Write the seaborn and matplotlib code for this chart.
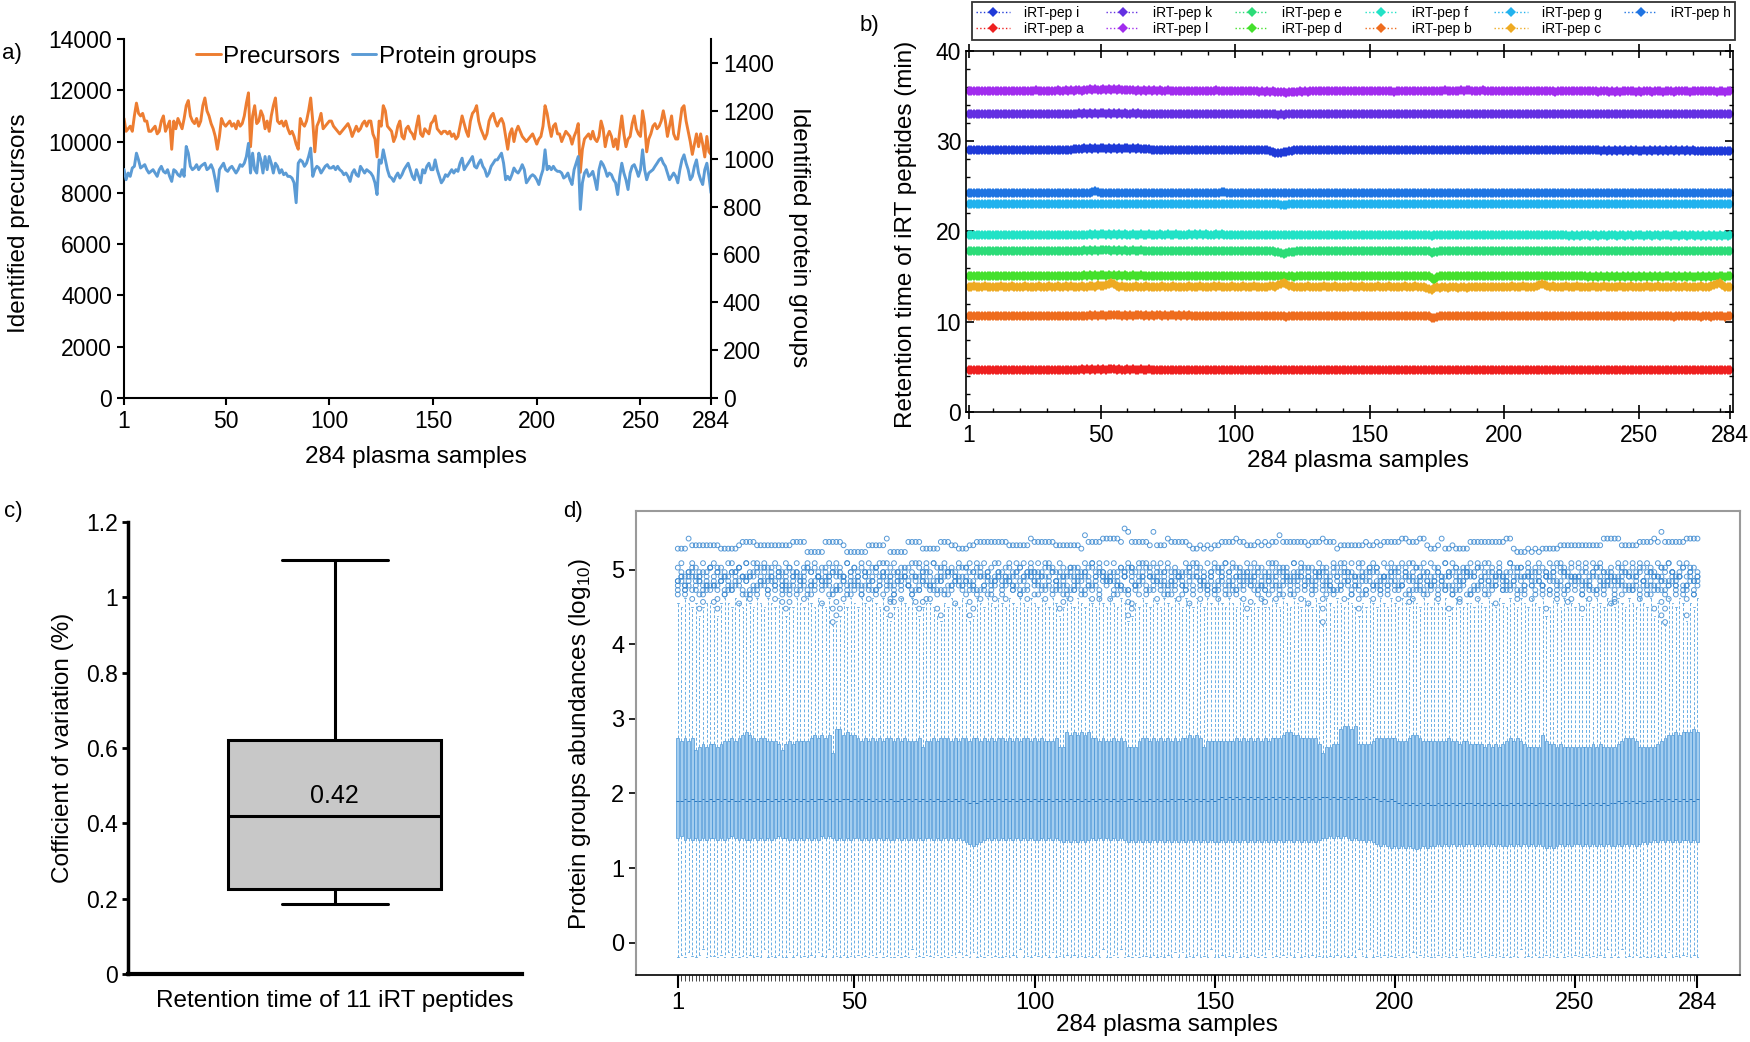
import numpy as np
import pandas as pd
import matplotlib
matplotlib.use("Agg")
import matplotlib.pyplot as plt
import seaborn as sns
from matplotlib.ticker import MultipleLocator, FixedLocator, FuncFormatter

sns.set_style("ticks")
plt.rcParams["font.family"] = ["Liberation Sans", "DejaVu Sans"]
plt.rcParams.update({"text.color": "black", "axes.labelcolor": "black",
                     "xtick.color": "black", "ytick.color": "black",
                     "axes.edgecolor": "black", "mathtext.fontset": "custom",
                     "mathtext.rm": "Liberation Sans"})

N = 284
samples = np.arange(1, N + 1)

# ---------------- a) identifications per sample ----------------
# precursors, in hundreds
PRECURSORS_100 = """
109 104 105 106 104 110 115 111 110 111
108 108 104 104 105 106 103 104 108 110
104 106 108 97 108 105 109 107 105 109
114 116 110 108 107 109 106 108 114 117
112 110 107 105 102 97 102 109 107 106
107 108 106 107 105 108 106 107 110 115
119 98 110 114 107 108 112 110 105 108
104 110 114 117 108 107 108 106 108 105
103 104 102 99 97 109 107 106 108 112
117 108 96 106 108 111 105 106 107 108
108 106 105 104 103 104 105 106 107 105
102 104 106 104 105 107 108 106 108 108
103 101 94 108 106 114 112 106 105 104
100 102 106 108 102 101 105 106 104 103
101 106 110 103 102 105 104 103 107 108
110 105 104 103 104 104 103 104 102 103
101 102 106 110 107 104 102 108 111 112
114 108 105 103 101 103 108 110 111 108
106 108 109 107 102 97 103 105 100 104
106 104 102 101 100 101 102 103 101 99
101 102 106 114 111 106 102 106 107 103
103 100 102 104 103 102 99 102 104 107
88 97 101 102 103 101 104 101 100 102
108 105 98 102 104 102 98 101 97 104
110 103 98 101 102 107 110 105 103 102
112 107 96 101 103 106 107 105 106 108
112 108 102 106 110 103 101 101 107 113
114 108 104 100 95 99 103 98 103 99
94 102 96 95
"""
PROTEIN_GROUPS = """
955 912 940 926 961 968 1023 995 961 968
975 954 940 947 954 940 926 954 968 947
940 954 926 905 954 947 933 926 954 926
1051 1023 968 954 961 975 954 968 975 981
954 961 975 954 912 864 954 968 981 954
947 961 968 954 940 954 975 968 981 1009
1064 940 1023 954 940 1023 995 940 1009 954
1009 981 940 981 968 940 954 933 940 926
926 919 899 816 981 995 988 968 981 1009
1044 926 954 968 961 940 954 968 975 961
961 968 954 968 954 947 933 940 926 905
940 954 933 926 968 954 940 954 947 940
926 899 850 995 981 1037 995 954 926 919
905 926 940 919 933 954 968 981 954 926
912 954 926 899 954 940 968 981 954 954
995 954 926 899 912 933 926 940 954 940
954 947 981 1002 954 968 981 995 1009 968
961 981 995 968 954 926 940 968 981 995
995 1009 1023 981 912 926 912 933 961 947
940 954 975 954 899 912 926 933 926 912
892 926 954 1037 954 968 954 968 954 947
947 940 919 926 940 912 892 954 981 1009
788 899 940 954 926 933 947 912 871 954
988 975 954 926 940 933 912 899 850 926
981 940 912 871 940 968 975 954 926 954
1037 954 912 940 947 954 968 981 995 1002
981 968 940 912 926 940 926 899 954 995
1016 981 954 912 926 968 995 940 912 892
954 981 926 857
"""

# ---------------- b) retention time of the iRT peptides ----------------
# level in minutes; each digit is the per-sample offset (digit - 5) * 0.1 min
rt_level = {"a": 4.7, "b": 10.6, "c": 13.9, "d": 15.1, "e": 17.8, "f": 19.6,
            "g": 23.1, "h": 24.3, "i": 29.0, "k": 33.0, "l": 35.6}
rt_offsets = {
    "a": """5555555555 5555555555 5555555555 5555555555 5565656565
            6566656556 5655655655 5555555555 5555555555 5555555555
            5555555555 5555555555 5555555555 5555555555 5555555555
            5555555555 5555555555 5545555555 5555555555 5555555555
            5555555555 5555555555 5555555555 5555555555 5555555555
            5555555555 5545554555 4554545545 5455""",
    "b": """5555555555 5555555555 5555555555 5555555555 5555565656
            6566666565 6566656565 6656566565 6565555555 5555555555
            5555555555 5555555545 5555555555 5555555555 5555555555
            5555555555 5555555555 5533455555 5555555555 5555555555
            5555555555 5555555555 5555555555 5555555555 5555555555
            5555555555 5545555555 5545554555 5455""",
    "c": """5465546545 4565456455 5645546545 6556456565 5465566576
            6789865655 5465546545 4565456455 5465546545 5646554565
            4565456455 5466578986 6545546545 4565456455 5465546545
            4565456455 5465546544 3213434434 4434434544 4544545455
            5465546545 5678765655 4565456455 5465546545 4565456455
            5465546545 4565456455 5465556789 7545""",
    "d": """5555555555 5555555555 5555555555 5555555555 5556565656
            6565656565 5655655555 5555555555 5555555555 5555555555
            5555555555 5555555545 5455555555 5555555555 5555555555
            5555555555 5555555555 5520455555 5555555555 5555555555
            5555555555 5555555555 5555555555 4545454545 4545454545
            4545454545 5454545454 4545454545 5455""",
    "e": """5555555555 5555555555 5555555555 5555555555 5556565656
            6665656565 5655655555 5555555555 5555555555 5555555555
            5555555555 5555443234 4455555555 5555555555 5555555555
            5555555555 5555555555 5534455555 5555555555 5555555555
            5555555555 5555555555 5555555555 5555555555 5555555555
            5555555555 5555555555 5555555555 5555""",
    "f": """5555555555 5555555555 5555555555 5555555555 5555565656
            6565656565 5655655655 5655655655 5565656565 5565655555
            5555555555 5555555555 5555555555 5555555555 5555555555
            5555555555 5555555555 5545555555 5555555555 5555555555
            5555555555 5555555555 5554545455 5455455455 5455455455
            5455455455 5455455455 4545454545 4545""",
    "g": """5555555555 5555555555 5555555555 5555555555 5555555555
            5555555555 5555555555 5555555555 5555555555 5555555555
            5555555555 5555443334 4455555555 5555555555 5555555555
            5555555555 5555555555 5555555555 5555555555 5555555555
            5555555555 5555555555 5555555555 5555555555 5555555555
            5555555555 5555555555 5555555555 5555""",
    "h": """5555555555 5555555555 5555555555 5555555555 5555556765
            5555555555 5555555555 5555555555 5555555555 5555665555
            5555555555 5555555555 5555555555 5555555555 5555555555
            5555555555 5555555555 5555555555 5555555555 5555555555
            5555555555 5555555555 5555555555 5555555555 5555555555
            5555555555 5555555555 5555555555 5555""",
    "i": """5555555555 5555555555 5555555555 5555555556 6667676767
            7676767677 6767666655 5555555555 5555555555 5555555555
            5555555555 5543222334 4555555555 5555555555 5555555555
            5555555555 5555555555 5555555555 5555555555 5555555555
            5555555555 5555555555 5555555555 5555545454 5454545454
            4545454545 4545454545 4444444444 4444""",
    "k": """5555555555 5555555555 5555555555 5555555555 5656565656
            6565656565 5656555555 5555555555 5555555555 5555555555
            5555555555 5555545455 5555555555 5555555555 5555555555
            5555555555 5555555555 5555555555 5555555555 5555555555
            5555555555 5555555555 5555555555 5555555555 5555555555
            5555555555 5555555555 5555555555 5555""",
    "l": """5555555555 5555555555 5555565555 5556556565 6656676766
            7676767666 6656565656 5655655555 5555555555 5565555555
            5555555545 4545444434 4445454555 5555555555 5555555555
            5555555545 5555555555 5555555655 5556566555 5655555555
            5555555555 5555555545 5555555555 5555455545 4545555545
            4555455545 5545555545 5555555545 5455""",
}
legend_order = ["i", "a", "k", "l", "e", "d", "f", "b", "g", "c", "h"]
pep_colors = {"i": "#1f3ad8", "a": "#ee2020", "k": "#6330e2", "l": "#a12cee",
              "e": "#2cdc78", "d": "#44e02c", "f": "#22e2c6", "b": "#ee6c1e",
              "g": "#22b2ee", "c": "#eeaa22", "h": "#1f74e2"}

# ---------------- c) CV of retention time, 11 iRT peptides (%) ----------------
cv_values = [0.185, 0.21, 0.22, 0.23, 0.35, 0.42, 0.50, 0.60, 0.64, 0.85, 1.10]

# ---------------- d) protein abundance boxes per sample (log10) ----------------
# digit codes per sample: q1 = 1.25+0.025d, median = 1.80+0.025d, q3 = 2.55+0.04d,
# whisker low = -0.22+0.02d, whisker high = 4.20+0.06d
Q1 = """6756565656 6565676565 5656565676 6565656565 7676565656 6565656565
5656565656 6565656565 4323456565 6565656565 5656565454 5454565656 5656545454
5454545454 5454545454 4545454545 4545454545 5454545456 6767676565 5454323212
1212101212 2323232323 3232323232 2323232323 2121232323 3232323232 2323232343
4545454545 5454"""
MED = """4454544545 4545454454 5454454545 4545454545 5454545545 4545454545
4454545454 5454454545 4343454545 4545454545 4545454545 4545454545 4545455454
4545454545 5454545454 5656565656 5656565656 5656565656 6565656565 5656545454
3232323232 2323232323 3232323232 2323232323 3232323232 2323232323 3434343434
4545454545 4545"""
Q3 = """5454512323 3234454567 6545544431 3434444565 6560886766 5454545455
4545444524 4545554545 5455454545 5454545545 4544452276 7676755454 4545422245
5454545454 5565652444 4444454545 4545455567 7665555530 2233899893 3334555555
4445665444 4444544344 3333232323 4545432222 6433232222 2222323222 2345554222
2234566767 7787"""
LO = """1315213712 2131513121 3121712131 1513121315 2171213121 3121315121
1312171213 2131213151 3151213121 1213171213 2131512131 3121213171 1317121312
2131213151 5121312171 1312151213 2131712131 3151213121 1213121317 2171213121
3121513121 1312131712 2151213121 3121712131 1312151213 2131213171 3171213121
1213151213 2131"""
HI = """6576563566 5367657657 6576576575 3557657657 6571236576 5765765732
5576575356 6532657657 6237657657 6576576576 5765763576 5765765765 7657623657
6576576576 5765765765 7657657635 6575576576 5765765761 7657657653 6576576576
5765765765 7657357556 6576576576 5765765765 7357657565 6376576576 5765765765
7362176576 2657"""
# outliers, "." = none
# top row: 5.15 + 0.045 d
OUT_TOP = """3336444444 4433333455 5544444444 4455552222 2555554222 2224444462
2222555533 3335554433 3445555555 5544444465 5555544444 4437555566 6665985555
5484446555 5543343434 4555565544 4545455755 5555545556 5553444444 4544545555
5665556643 3463343333 5555555555 6632223232 3333344444 4444444666 6644444555
5658555555 6666"""
# main cluster: 4.55 + 0.06 d
OUT_CLUSTER = [
    """8967986978 9786997869 6998786987 9879689796 8697986978
    7969879698 9786896979 6987978698 8979697869 7896986797
    9698779868 8769897969 6978698789 9867979686 7989686979
    8697987698 9786969878 6979868797 8698797969 9787869698
    6989786979 8769698787 9698978696 7986869789 8697978696
    9786989768 6979687989 8698797698 9786""",
    """5746857468 6857475869 7485968574 4867578486 5768475968
    6847586974 7568469857 4958674786 8576847596 5684759687
    7469857648 6857496875 5748687496 8695748576 4786957468
    7594868574 6847597486 5968475768 7486957648 6579846857
    8476958674 5869748576 7485697486 6957848675 4768597486
    8594768574 5687496857 7468597468 6857""",
    """5647365748 4756374865 6374857463 7463548756 5847366475
    6475384756 4756473658 7365847564 5748366457 4657483765
    6384756473 5473684756 7564738465 4658374756 6374856473
    5847364756 7463584765 4756384675 6573485746 5384756473
    7465384756 4756473658 6384756473 5748366457 4657483765
    6475384756 5847364756 7365847564 4756""",
    """4635746354 5463647536 3746536475 6357463547 4563746354
    5374635746 3647536475 4536374654 6453746357 3564736475
    5746354637 4637546375 6354736457 3746563547 5463745364
    4736536475 6354746357 3647563574 5436475364 7364536475
    4573646354 6354736457 3746354675 5463647536 4736357464
    6354736457 3564746354 5746356473 4635""",
    """3524635243 4352536425 2635425364 5246352436 3452635243
    4263524635 2536425364 3425263543 5342635246 2453625364
    4635243526 3526435264 5243625346 2635452436 4352634253
    3625425364 5243635246 2536452463 4325364253 6253425364
    3462535243 5243625346 2635243564 4352536425 3625246353
    5243625346 2453635243 4635245362 3524""",
    """2.3.1.2.3. .1.2.3.0.2 1.2..3.1.2 3..2.1.2.. 0.2.3.1.2. .2.1.3.2.1
    2.1..2.3.1 1..3.2.0.. 2.3.1.2.1. .1.3.2.1.2 2.1..3.2.1 3..2.1.1.. 1.2.3.0.2.
    .3.1.2.2.1 2.0..1.3.2 1..2.3.1.. 3.1.2.1.2. .2.1.0.3.1 2.3..1.2.1 2..1.3.2..
    1.2.1.3.2. .1.3.2.1.2 2.1..2.0.3 3..1.2.1.. 2.3.1.2.1. .2.1.3.2.0 1.2..3.1.2
    2..3.1.2.. 1.2.""",
]
# low tails: 4.30 + 0.09 d
OUT_TAIL = [
    """......23.. 32........ .........3 23........ ...012.... ........21
    3.....323. ..21...... .12....... .......... ......23.. .......... .....12...
    .......... .......... ........23 ...3...... .........0 .........2 ..........
    ...3...... ....2..3.. .......... .......... .2.....3.. .2........ 3.........
    .2.10..... 1...""",
    """.......... .......... .......... .......... ...23..... .........3
    .......... .......... .3........ .......... .......... .......... .....3....
    .......... .......... .......... .......... .........2 .......... ..........
    .......... .......... .......... .......... .......... .......... ..........
    ...32..... ....""",
]


def nums(txt):
    vals = np.array(txt.split(), dtype=float)
    assert len(vals) == N, len(vals)
    return vals


def codes(txt):
    vals = [np.nan if c == "." else float(c) for c in txt if not c.isspace()]
    assert len(vals) == N, len(vals)
    return np.array(vals)


precursors = nums(PRECURSORS_100) * 100
protein_groups = nums(PROTEIN_GROUPS)
rt = {k: rt_level[k] + (codes(rt_offsets[k]) - 5) * 0.1 for k in rt_level}

q1 = 1.25 + codes(Q1) * 0.025
med = 1.80 + codes(MED) * 0.025
q3 = 2.55 + codes(Q3) * 0.04
lo = -0.22 + codes(LO) * 0.02
hi = 4.20 + codes(HI) * 0.06
box_df = pd.DataFrame({"sample": np.tile(samples, 5),
                       "value": np.concatenate([lo, q1, med, q3, hi])})

out_x, out_y = [], []
for rows, base, step in [([OUT_TOP], 5.15, 0.045), (OUT_CLUSTER, 4.55, 0.06),
                         (OUT_TAIL, 4.30, 0.09)]:
    for row in rows:
        v = base + codes(row) * step
        ok = ~np.isnan(v)
        out_x.append(samples[ok])
        out_y.append(v[ok])
out_x = np.concatenate(out_x)
out_y = np.concatenate(out_y)

# ---------------- figure ----------------
W, H = 1750, 1042
fig = plt.figure(figsize=(W / 100, H / 100), dpi=100)


def box(l, t, r, b):
    return [l / W, 1 - b / H, (r - l) / W, (b - t) / H]


TICK = 16.5
LAB = 17.5
ORANGE, BLUE = "#ED7D31", "#5B9BD5"
ticks_284 = [1, 50, 100, 150, 200, 250, 284]

# a)
ax_a = fig.add_axes(box(124, 39, 711, 398))
ax_a2 = ax_a.twinx()
sns.lineplot(x=samples, y=precursors, ax=ax_a, color=ORANGE, lw=2.1, legend=False)
sns.lineplot(x=samples, y=protein_groups, ax=ax_a2, color=BLUE, lw=2.1, legend=False)
ax_a.set_xlim(1, 284)
ax_a.set_ylim(0, 14000)
ax_a2.set_ylim(0, 1500)
ax_a.set_xticks(ticks_284)
ax_a.set_yticks(range(0, 14001, 2000))
ax_a2.set_yticks(range(0, 1401, 200))
for s in ["top", "right"]:
    ax_a.spines[s].set_visible(False)
for s in ["top", "left", "bottom"]:
    ax_a2.spines[s].set_visible(False)
for a in (ax_a, ax_a2):
    for s in a.spines.values():
        s.set_linewidth(1.5)
    a.tick_params(direction="out", length=5, width=1.5, labelsize=TICK)
ax_a.set_xlabel("284 plasma samples", fontsize=LAB)
ax_a.set_ylabel("Identified precursors", fontsize=LAB)
ax_a2.set_ylabel("Identified protein groups", fontsize=LAB, rotation=270, va="bottom")
ax_a.xaxis.set_label_coords(0.497, -0.134)
ax_a.yaxis.set_label_coords(-0.160, 0.487)
ax_a2.yaxis.set_label_coords(1.131, 0.449)
ax_a2.legend([ax_a.lines[0], ax_a2.lines[0]], ["Precursors", "Protein groups"],
             loc="center left", bbox_to_anchor=(0.123, 0.95), ncol=2, frameon=False,
             fontsize=LAB, handlelength=1.0, handletextpad=0.1, columnspacing=0.5,
             borderpad=0, borderaxespad=0)

# b)
ax_b = fig.add_axes(box(966, 51, 1733, 412))
for k in legend_order:
    sns.lineplot(x=samples, y=rt[k], ax=ax_b, color=pep_colors[k], marker="D",
                 markersize=5.2, markeredgewidth=0, linestyle=":", lw=1,
                 label=f"iRT-pep {k}", legend=False)
ax_b.set_xlim(0, 285)
ax_b.set_ylim(0, 40)
ax_b.set_xticks(ticks_284)
ax_b.xaxis.set_minor_locator(FixedLocator(range(10, 285, 10)))
ax_b.yaxis.set_major_locator(MultipleLocator(10))
ax_b.yaxis.set_minor_locator(MultipleLocator(2))
ax_b.tick_params(which="both", top=True, right=True, direction="in", labelsize=TICK)
ax_b.tick_params(which="major", length=6, width=1.2)
ax_b.tick_params(which="minor", length=3, width=1)
ax_b.tick_params(axis="x", which="major", direction="inout", length=10)
for s in ax_b.spines.values():
    s.set_linewidth(1.2)
ax_b.set_xlabel("284 plasma samples", fontsize=LAB)
ax_b.set_ylabel("Retention time of iRT peptides (min)", fontsize=LAB)
ax_b.xaxis.set_label_coords(0.511, -0.105)
ax_b.yaxis.set_label_coords(-0.064, 0.493)
leg = ax_b.legend(ax_b.lines, [l.get_label() for l in ax_b.lines], ncol=6,
                  loc="lower left", bbox_to_anchor=(0.008, 1.03, 0.995, 0.1),
                  mode="expand", borderaxespad=0, fontsize=10, fancybox=False,
                  edgecolor="black", handlelength=2.4, handletextpad=1.0,
                  labelspacing=0.15, borderpad=0.3, columnspacing=1.0)
leg.get_frame().set_linewidth(1.3)

# c)
ax_c = fig.add_axes(box(128, 522, 522, 974))
sns.boxplot(y=cv_values, ax=ax_c, width=0.54, color="#c8c8c8", saturation=1,
            linecolor="black", linewidth=2.2, whis=1.5, showfliers=False)
ax_c.set_xlim(-0.525, 0.475)
ax_c.set_ylim(0, 1.2)
ax_c.set_yticks(np.arange(0, 1.21, 0.2))
ax_c.yaxis.set_major_formatter(FuncFormatter(lambda v, p: f"{v:g}"))
ax_c.set_xticks([])
for s in ["top", "right"]:
    ax_c.spines[s].set_visible(False)
ax_c.spines["left"].set_linewidth(2.5)
ax_c.spines["bottom"].set_linewidth(3)
ax_c.tick_params(axis="y", direction="out", length=4, width=2, labelsize=TICK)
cv_med = np.median(cv_values)
ax_c.text(0, cv_med + 0.02, f"{cv_med:.2f}", ha="center", va="bottom", fontsize=18)
ax_c.set_xlabel("Retention time of 11 iRT peptides", fontsize=LAB)
ax_c.set_ylabel("Cofficient of variation (%)", fontsize=LAB)
ax_c.xaxis.set_label_coords(0.525, -0.035)
ax_c.yaxis.set_label_coords(-0.137, 0.5)

# d)
ax_d = fig.add_axes(box(636, 511, 1740, 975))
sns.boxplot(data=box_df, x="sample", y="value", ax=ax_d, native_scale=True,
            whis=(0, 100), showfliers=False, width=0.8, color="#a3cdef",
            saturation=1, linecolor="#3b8dd3", linewidth=0.45,
            whiskerprops=dict(color="#6aaee4", linestyle=(0, (3, 2)), linewidth=0.7),
            capprops=dict(color="#6aaee4", linewidth=0.7),
            medianprops=dict(color="#2a78c0", linewidth=0.7))
sns.scatterplot(x=out_x, y=out_y, ax=ax_d, marker="o", s=12, color="#3a88d0",
                edgecolor="#3a88d0", linewidth=0.7, alpha=0.85, legend=False)
ax_d.collections[-1].set_facecolor("none")
ax_d.set_xlim(-10.6, 295.8)
ax_d.set_ylim(-0.435, 5.79)
ax_d.set_xticks(ticks_284)
ax_d.set_xticklabels([str(t) for t in ticks_284])
ax_d.xaxis.set_minor_locator(FixedLocator(samples))
ax_d.set_yticks(range(0, 6))
ax_d.tick_params(axis="x", which="major", direction="out", length=9, width=1.5,
                 labelsize=17)
ax_d.tick_params(axis="x", which="minor", direction="out", length=4, width=0.5)
ax_d.tick_params(axis="y", direction="out", length=5, width=1.2, labelsize=17)
for s in ["top", "right", "left"]:
    ax_d.spines[s].set_color("#9a9a9a")
    ax_d.spines[s].set_linewidth(1.5)
ax_d.spines["bottom"].set_linewidth(1.2)
ax_d.set_xlabel("284 plasma samples", fontsize=LAB)
ax_d.set_ylabel(r"Protein groups abundances (log$_{\mathregular{10}}$)", fontsize=LAB)
ax_d.xaxis.set_label_coords(0.481, -0.084)
ax_d.yaxis.set_label_coords(-0.039, 0.498)

# panel letters
for lab, x, y in [("a)", 2, 53), ("b)", 860, 25), ("c)", 4, 511), ("d)", 563, 511)]:
    fig.text(x / W, 1 - y / H, lab, fontsize=16, ha="left", va="center")

fig.savefig("out.png", dpi=100)
